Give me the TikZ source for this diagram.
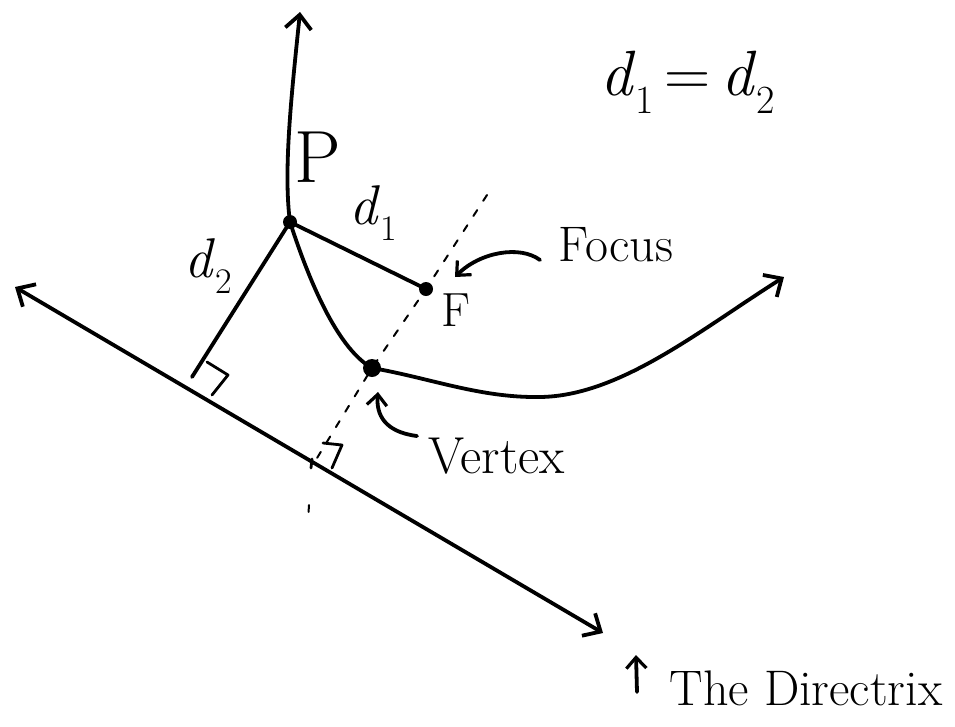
\documentclass[tikz,border=0pt]{standalone}
\usetikzlibrary{arrows.meta}
\newcommand\dsub[2]{\textit{d}\raisebox{-0.28em}{\fontsize{#2}{#2}\selectfont #1}}
\tikzset{
  ink/.style={line width=3.8pt, line cap=round, line join=round},
  thinink/.style={line width=2.8pt, line cap=round, line join=round},
  axisline/.style={line width=2pt, dash pattern=on 7pt off 11pt, line cap=round},
  myBarb/.tip={Straight Barb[length=14pt, width=26pt, line width=3.8pt]},
  mySmallBarb/.tip={Straight Barb[length=11pt, width=20pt, line width=3.2pt]},
  dot/.style={circle, fill=black, inner sep=0pt, minimum size=#1},
  lbl/.style={inner sep=0pt, font=\fontsize{#1}{#1}\selectfont}
}
\begin{document}
\begin{tikzpicture}[x=1pt, y=-1pt]
\useasboundingbox (0,0) rectangle (955,726);

% key points
\coordinate (Top) at (300,12);
\coordinate (P) at (290,222);
\coordinate (V) at (372,368);
\coordinate (M) at (540,397);
\coordinate (End) at (784,277);
\coordinate (F) at (426,289);
\coordinate (L) at (15,287);
\coordinate (R) at (603,633);
\coordinate (D2) at (192,377);
\coordinate (A) at (314,463);
\coordinate (AxTop) at (487,195);

% directrix
\draw[ink, myBarb-myBarb] (L) -- (R);

% axis of symmetry
\draw[axisline] (AxTop) -- (F) -- (V) -- (A);
\draw[axisline] (309,505) -- (308,520);

% parabola
\draw[ink, myBarb-myBarb] (Top) .. controls (292,90) and (283,170) .. (P)
  .. controls (312,290) and (340,350) .. (V)
  .. controls (430,378) and (480,398) .. (M)
  .. controls (620,396) and (700,330) .. (End);

% distances
\draw[ink] (P) -- (F);
\draw[ink] (P) -- (D2);

% right-angle marks
\draw[thinink] (207,362) -- (228,375) -- (212,395);
\draw[thinink] (323,443) -- (342,445) -- (332,468);
\draw[thinink] (312,459) -- (311,468);

% points
\node[dot=14pt] (Pdot) at (P) {};
\node[dot=14pt] (Fdot) at (F) {};
\node[dot=18pt] (Vdot) at (V) {};

% pointer arrows
\coordinate (FocTail) at (540,260);
\coordinate (FocTip) at (455,277);
\draw[ink, -mySmallBarb] (FocTail) .. controls (520,245) and (480,252) .. (FocTip);
\coordinate (VerTail) at (417,436);
\coordinate (VerTip) at (378,392);
\draw[ink, -mySmallBarb] (VerTail) .. controls (385,432) and (376,415) .. (VerTip);
\coordinate (DirTail) at (637,692);
\coordinate (DirTip) at (636,655);
\draw[ink, -mySmallBarb] (DirTail) -- (DirTip);

% labels
\node[lbl=74] (Plbl) at (318,157) {P};
\node[lbl=56] (d1lbl) at (373,213) {\dsub{1}{36}};
\node[lbl=56] (d2lbl) at (208,266) {\dsub{2}{36}};
\node[lbl=48] (Flbl) at (456,310) {F};
\node[lbl=50] (Foclbl) at (616,245) {Focus};
\node[lbl=52] (Verlbl) at (497,456) {Vertex};
\node[lbl=64] (eqlbl) at (688,82) {\dsub{1}{40}\,=\,\dsub{2}{40}};
\node[lbl=50] (Dirlbl) at (806,688) {The Directrix};
\end{tikzpicture}
\end{document}
